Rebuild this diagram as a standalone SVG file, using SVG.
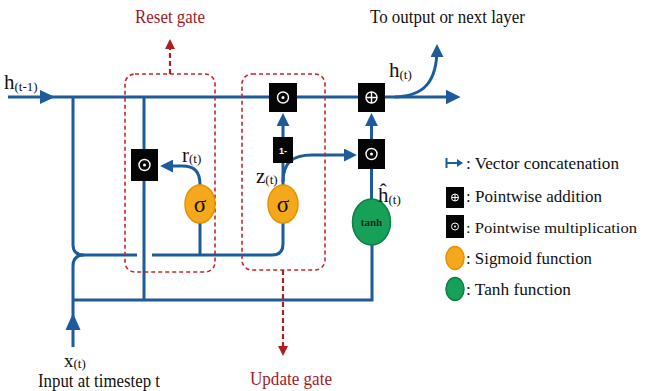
<svg xmlns="http://www.w3.org/2000/svg" width="645" height="391" viewBox="0 0 645 391">
<defs>
<style>
.ln{fill:none;stroke:#1d5b9b;stroke-width:3}
.ah{fill:#1d5b9b}
.gate{fill:none;stroke:#c4262c;stroke-width:1.6;stroke-dasharray:4 3}
.garr{fill:none;stroke:#b01e24;stroke-width:2.2;stroke-dasharray:5 3}
.sq{fill:#050505}
.sym{fill:none;stroke:#fff;stroke-width:1.4}
.sig{fill:#f5a81c;stroke:#e69200;stroke-width:1.5}
.tnh{fill:#17a058;stroke:#0e7f42;stroke-width:1.5}
.t{font-family:"Liberation Serif","Times New Roman",serif;fill:#111}
.lg{font-family:"Liberation Serif","Times New Roman",serif;fill:#111;font-size:16.5px}
.red{font-family:"Liberation Serif","Times New Roman",serif;fill:#a3191f;font-size:19px}
.sub{font-size:13px}
</style>
<marker id="arr" viewBox="0 0 10 10" refX="7" refY="5" markerWidth="13" markerHeight="13" markerUnits="userSpaceOnUse" orient="auto">
<path d="M0,0 L10,5 L0,10 z" fill="#1d5b9b"/>
</marker>
<marker id="arrL" viewBox="0 0 10 10" refX="7" refY="5" markerWidth="15" markerHeight="16" markerUnits="userSpaceOnUse" orient="auto">
<path d="M0,0 L10,5 L0,10 z" fill="#1d5b9b"/>
</marker>
<marker id="rarr" viewBox="0 0 10 10" refX="5" refY="5" markerWidth="10" markerHeight="10" markerUnits="userSpaceOnUse" orient="auto">
<path d="M0,0 L10,5 L0,10 z" fill="#b01e24"/>
</marker>
</defs>
<rect width="645" height="391" fill="#ffffff"/>

<g id="connectors">
<path class="ln" d="M8 97 H456" marker-end="url(#arrL)"/>
<path class="ah" d="M40 90 L55 97 L40 104 z"/>
<path class="ln" d="M395 97 C424 96 437 82 437 48" marker-end="url(#arr)"/>
<path class="ln" d="M73 97 V245 Q73 255 84 255 H137"/>
<path class="ln" d="M84 255 Q73 255 73 266 V347"/>
<path class="ah" d="M73 313 L80.5 330 L65.5 330 z"/>
<path class="ln" d="M73 300 H372 V245"/>
<path class="ln" d="M152 255 H272 Q283 255 283 244 V223"/>
<path class="ln" d="M200 255 V223"/>
<path class="ln" d="M144 97 V149"/>
<path class="ln" d="M144 181 V300"/>
<path class="ln" d="M200 185 C200 172 195 166 182 166 H164" marker-end="url(#arr)"/>
<path class="ln" d="M283 185 V163"/>
<path class="ln" d="M283 137 V117" marker-end="url(#arr)"/>
<path class="ln" d="M283 182 C283 163 292 155 312 155 H353" marker-end="url(#arr)"/>
<path class="ln" d="M371.5 139 V117" marker-end="url(#arr)"/>
<path class="ln" d="M371.5 199 V169"/>
</g>

<g id="reset_gate">
<rect class="gate" x="125" y="74" width="90" height="198" rx="10"/>
<path class="garr" d="M170 74 V44" marker-end="url(#rarr)"/>
<text class="red" x="135" y="23" textLength="70" lengthAdjust="spacingAndGlyphs">Reset gate</text>
</g>

<g id="update_gate">
<rect class="gate" x="242" y="74" width="83" height="196" rx="10"/>
<path class="garr" d="M283 270 V351" marker-end="url(#rarr)"/>
<text class="red" x="250" y="385" textLength="82" lengthAdjust="spacingAndGlyphs">Update gate</text>
</g>

<g id="h_prev">
<text class="t" x="4" y="89" font-size="21">h<tspan class="sub" dy="2">(t-1)</tspan></text>
</g>

<g id="x_input">
<text class="t" x="64" y="367" font-size="19">x<tspan class="sub" dy="1">(t)</tspan></text>
<text class="t" x="38" y="387" font-size="18" textLength="122" lengthAdjust="spacingAndGlyphs">Input at timestep t</text>
</g>

<g id="reset_mult">
<rect class="sq" x="131" y="149" width="27" height="32"/>
<circle class="sym" cx="144.5" cy="165" r="5.5"/>
<circle cx="144.5" cy="165" r="1.5" fill="#fff"/>
</g>

<g id="sigma_r">
<ellipse class="sig" cx="200" cy="204" rx="15" ry="19"/>
<text class="t" x="200" y="212" font-size="23" text-anchor="middle">σ</text>
<text class="t" x="182" y="162" font-size="21">r<tspan class="sub" dy="1">(t)</tspan></text>
</g>

<g id="sigma_z">
<ellipse class="sig" cx="283" cy="204" rx="15" ry="19"/>
<text class="t" x="283" y="212" font-size="23" text-anchor="middle">σ</text>
<text class="t" x="256" y="183" font-size="21">z<tspan class="sub" dy="1">(t)</tspan></text>
</g>

<g id="one_minus">
<rect class="sq" x="273" y="137" width="20" height="26"/>
<text x="283" y="153.5" font-family="Liberation Sans, Arial, sans-serif" font-size="9" font-weight="bold" fill="#fff" text-anchor="middle">1-</text>
</g>

<g id="update_mult">
<rect class="sq" x="269" y="83" width="28" height="29"/>
<circle class="sym" cx="283" cy="97.5" r="5.5"/>
<circle cx="283" cy="97.5" r="1.5" fill="#fff"/>
</g>

<g id="add">
<rect class="sq" x="358" y="83" width="27" height="29"/>
<circle class="sym" cx="371.5" cy="97.5" r="5.5"/>
<path class="sym" d="M366 97.5 H377 M371.5 92 V103"/>
<text class="t" x="389" y="77" font-size="21">h<tspan class="sub" dy="2">(t)</tspan></text>
</g>

<g id="cand_mult">
<rect class="sq" x="358" y="139" width="27" height="30"/>
<circle class="sym" cx="371.5" cy="154" r="5.5"/>
<circle cx="371.5" cy="154" r="1.5" fill="#fff"/>
</g>

<g id="tanh">
<ellipse class="tnh" cx="371.5" cy="222" rx="19" ry="23"/>
<text x="371.5" y="226" font-family="Liberation Serif, Times New Roman, serif" font-size="11" font-weight="bold" fill="#0d2a18" text-anchor="middle">tanh</text>
<text class="t" x="378" y="202" font-size="21">ĥ<tspan class="sub" dy="2">(t)</tspan></text>
</g>

<g id="output_label">
<text class="t" x="370" y="23" font-size="19" textLength="155" lengthAdjust="spacingAndGlyphs">To output or next layer</text>
</g>

<g id="legend">
<path d="M446.5 158 V168 M446.5 163 H458" fill="none" stroke="#1d5b9b" stroke-width="2"/>
<path d="M457 159 L463 163 L457 167 z" fill="#1d5b9b"/>
<text class="lg" x="466" y="169" textLength="153" lengthAdjust="spacingAndGlyphs">: Vector concatenation</text>
<rect class="sq" x="446" y="187" width="18" height="21"/>
<circle cx="455" cy="197.5" r="3.5" fill="none" stroke="#fff" stroke-width="1"/>
<path d="M451.5 197.5 H458.5 M455 194 V201" stroke="#fff" stroke-width="1"/>
<text class="lg" x="466" y="202" textLength="136" lengthAdjust="spacingAndGlyphs">: Pointwise addition</text>
<rect class="sq" x="446" y="215" width="18" height="23"/>
<circle cx="455" cy="226.5" r="3.5" fill="none" stroke="#fff" stroke-width="1"/>
<circle cx="455" cy="226.5" r="1" fill="#fff"/>
<text class="lg" x="466" y="233" style="font-size:15.5px" textLength="171" lengthAdjust="spacingAndGlyphs">: Pointwise multiplication</text>
<ellipse class="sig" cx="455" cy="258" rx="9" ry="11.5"/>
<text class="lg" x="466" y="264" textLength="126" lengthAdjust="spacingAndGlyphs">: Sigmoid function</text>
<ellipse class="tnh" cx="455" cy="289" rx="9" ry="11.5"/>
<text class="lg" x="466" y="295" textLength="105" lengthAdjust="spacingAndGlyphs">: Tanh function</text>
</g>
</svg>
